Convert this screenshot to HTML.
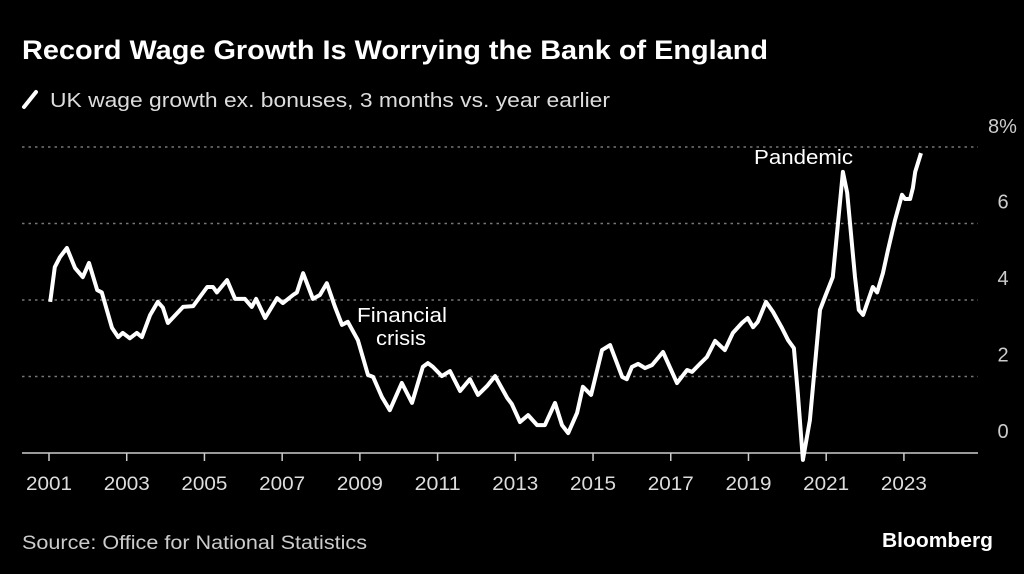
<!DOCTYPE html>
<html><head><meta charset="utf-8"><style>
html,body{margin:0;padding:0;background:#000;}
body{width:1024px;height:574px;overflow:hidden;font-family:"Liberation Sans",sans-serif;color:#fff;position:relative;}
</style></head><body>
<svg id="c" width="1024" height="574" viewBox="0 0 1024 574" style="position:absolute;left:0;top:0">
<text x="22" y="59" font-size="27" font-weight="bold" fill="#fff" textLength="746" lengthAdjust="spacingAndGlyphs">Record Wage Growth Is Worrying the Bank of England</text>
<line x1="24" y1="107" x2="36" y2="92" stroke="#fff" stroke-width="4" stroke-linecap="round"/>
<text x="50" y="107" font-size="20" fill="#ddd" textLength="560" lengthAdjust="spacingAndGlyphs">UK wage growth ex. bonuses, 3 months vs. year earlier</text>
<g id="grid"></g><g id="xaxis"></g><g id="yaxis"></g>
<path id="line" fill="none" stroke="#fff" stroke-width="4" stroke-linejoin="round"/>
<text x="357" y="322" font-size="20" fill="#fff" textLength="90" lengthAdjust="spacingAndGlyphs">Financial</text>
<text x="376" y="345" font-size="20" fill="#fff" textLength="50" lengthAdjust="spacingAndGlyphs">crisis</text>
<text x="754" y="164" font-size="20" fill="#fff" textLength="99" lengthAdjust="spacingAndGlyphs">Pandemic</text>
<text x="22" y="549" font-size="19" fill="#ccc" textLength="345" lengthAdjust="spacingAndGlyphs">Source: Office for National Statistics</text>
<text x="882" y="547" font-size="20" font-weight="bold" fill="#fff" textLength="111" lengthAdjust="spacingAndGlyphs">Bloomberg</text>
</svg>
<script>
const years=[2001.03,2001.15,2001.28,2001.46,2001.67,2001.87,2002.03,2002.24,2002.36,2002.62,2002.78,2002.90,2003.08,2003.26,2003.39,2003.60,2003.80,2003.93,2004.06,2004.45,2004.71,2005.07,2005.22,2005.32,2005.58,2005.79,2006.04,2006.22,2006.33,2006.56,2006.87,2007.02,2007.28,2007.38,2007.54,2007.79,2007.97,2008.15,2008.36,2008.54,2008.69,2008.95,2009.21,2009.34,2009.57,2009.77,2010.08,2010.34,2010.62,2010.75,2010.88,2011.11,2011.32,2011.58,2011.83,2012.04,2012.27,2012.48,2012.79,2012.91,2013.12,2013.33,2013.56,2013.76,2014.02,2014.20,2014.36,2014.59,2014.74,2014.95,2015.23,2015.44,2015.75,2015.87,2016.00,2016.16,2016.34,2016.52,2016.80,2017.16,2017.42,2017.55,2017.75,2017.93,2018.14,2018.39,2018.60,2018.83,2018.98,2019.12,2019.24,2019.45,2019.63,2019.86,2020.02,2020.17,2020.27,2020.40,2020.58,2020.84,2020.97,2021.17,2021.43,2021.54,2021.74,2021.84,2021.95,2022.20,2022.31,2022.46,2022.59,2022.77,2022.95,2023.03,2023.16,2023.23,2023.29,2023.44];
const values=[3.95,4.86,5.12,5.36,4.84,4.6,4.97,4.26,4.2,3.27,3.03,3.14,3.0,3.14,3.03,3.6,3.95,3.8,3.4,3.82,3.84,4.34,4.34,4.2,4.52,4.03,4.03,3.82,4.03,3.53,4.05,3.92,4.13,4.2,4.7,4.03,4.13,4.44,3.82,3.35,3.43,2.95,2.04,1.99,1.46,1.12,1.83,1.31,2.25,2.35,2.25,2.01,2.14,1.62,1.93,1.52,1.75,2.01,1.44,1.28,0.81,0.99,0.73,0.73,1.31,0.73,0.52,1.05,1.73,1.52,2.69,2.82,1.99,1.93,2.25,2.33,2.22,2.3,2.64,1.83,2.17,2.12,2.33,2.51,2.93,2.69,3.14,3.4,3.53,3.29,3.43,3.95,3.69,3.27,2.95,2.74,1.57,-0.18,0.86,3.74,4.08,4.6,7.35,6.8,4.6,3.74,3.61,4.34,4.2,4.7,5.31,6.09,6.75,6.64,6.64,6.93,7.35,7.84];
const xTicks=[2001,2003,2005,2007,2009,2011,2013,2015,2017,2019,2021,2023];
const yTicks=[0,2,4,6,8];
const yTickLabels=["0","2","4","6","8%"];
const X=y=>49+(y-2001)*38.86, Y=v=>453-v*38.25;
const NS="http://www.w3.org/2000/svg";
function mk(t,a,p){const e=document.createElementNS(NS,t);for(const k in a)e.setAttribute(k,a[k]);p.appendChild(e);return e;}
const grid=document.getElementById('grid'),xa=document.getElementById('xaxis'),ya=document.getElementById('yaxis');
yTicks.forEach((v,i)=>{
  if(v>0){const l=mk('line',{x1:22,x2:978,y1:Y(v),y2:Y(v),stroke:'#777','stroke-width':1.5,'stroke-dasharray':'2.5,4'},grid);
  
  }
  const t=mk('text',{x:v===8?988:1003,y:Y(v)-(v===8?14:15),'font-size':20,fill:'#ccc','text-anchor':v===8?'start':'middle'},ya);
  t.textContent=yTickLabels[i];
  
  
});
const base=mk('line',{x1:22,x2:978,y1:453,y2:453,stroke:'#ccc','stroke-width':1.5},xa);


xTicks.forEach(y=>{
  const tk=mk('line',{x1:X(y),x2:X(y),y1:453,y2:461,stroke:'#ccc','stroke-width':1.5},xa);
  
  
  const t=mk('text',{x:X(y),y:490,'font-size':19,fill:'#ddd','text-anchor':'middle',textLength:46,lengthAdjust:'spacingAndGlyphs'},xa);
  t.textContent=y;
  
  
});
document.getElementById('line').setAttribute('d',years.map((y,i)=>(i?'L':'M')+X(y).toFixed(1)+','+Y(values[i]).toFixed(1)).join(''));
</script>
</body></html>
